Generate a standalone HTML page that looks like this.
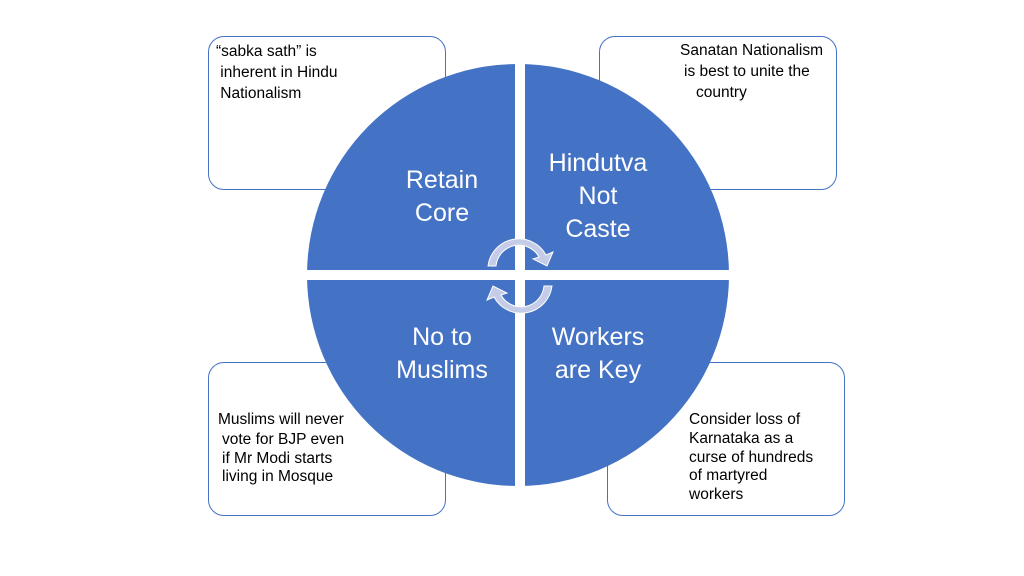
<!DOCTYPE html>
<html><head><style>
body{margin:0;width:1024px;height:576px;background:#fff;position:relative;overflow:hidden;font-family:"Liberation Sans",sans-serif}
.box{position:absolute;border:1px solid #4472c4;border-radius:16px;background:#fff;width:236px;height:152px}
.t{position:absolute;font-size:15.5px;color:#000;line-height:19px;white-space:nowrap}
.w{position:absolute;color:#fff;font-size:25px;line-height:33px;text-align:center;width:160px}
</style></head><body>
<div class="box" style="left:208px;top:36px"></div>
<div class="box" style="left:599px;top:36px"></div>
<div class="box" style="left:208px;top:362px"></div>
<div class="box" style="left:607px;top:362px"></div>
<svg style="position:absolute;left:0;top:0" width="1024" height="576">
<circle cx="518" cy="275" r="211" fill="#4472c4"/>
<rect x="515" y="50" width="10" height="450" fill="#fff"/>
<rect x="300" y="270" width="440" height="10" fill="#fff"/>
<g fill="#c5cce8" stroke="#fff" stroke-width="1">
<path d="M488 266 A31 31 0 0 1 546 255 L553 252 L547 266 L533 259 L539 257 A23 23 0 0 0 496 266 Z"/>
<path d="M552 286 A31 31 0 0 1 494 297 L487 300 L493 286 L507 293 L501 295 A23 23 0 0 0 544 286 Z"/>
</g>
</svg>
<div class="t" style="left:216px;top:41px;line-height:21px">“sabka sath” is<br>&nbsp;inherent in Hindu<br>&nbsp;Nationalism</div>
<div class="t" style="left:680px;top:41px">Sanatan Nationalism</div>
<div class="t" style="left:684px;top:62px">is best to unite the</div>
<div class="t" style="left:696px;top:83px">country</div>
<div class="t" style="left:218px;top:410px">Muslims will never</div>
<div class="t" style="left:222px;top:430px">vote for BJP even</div>
<div class="t" style="left:222px;top:449px">if Mr Modi starts</div>
<div class="t" style="left:222px;top:467px">living in Mosque</div>
<div class="t" style="left:689px;top:410px">Consider loss of</div>
<div class="t" style="left:689px;top:429px">Karnataka as a</div>
<div class="t" style="left:689px;top:448px">curse of hundreds</div>
<div class="t" style="left:689px;top:466px">of martyred</div>
<div class="t" style="left:689px;top:485px">workers</div>
<div class="w" style="left:362px;top:164px">Retain<br>Core</div>
<div class="w" style="left:518px;top:147px">Hindutva<br>Not<br>Caste</div>
<div class="w" style="left:362px;top:321px">No to<br>Muslims</div>
<div class="w" style="left:518px;top:321px">Workers<br>are Key</div>
</body></html>
